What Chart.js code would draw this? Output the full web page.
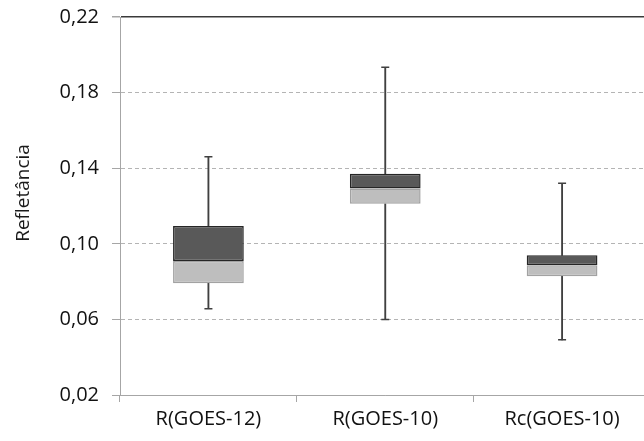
<!DOCTYPE html>
<html>
<head>
<meta charset="utf-8">
<script src="https://cdn.jsdelivr.net/npm/chart.js@4.4.0/dist/chart.umd.min.js"></script>
<style>
  html, body { margin: 0; padding: 0; background: #fff; overflow: hidden; }
  #wrap { width: 656px; height: 441px; position: relative; }
</style>
</head>
<body>
<div id="wrap"><canvas id="boxChart"></canvas></div>
<script>
// box plot values (reflectance)
const categories = ['R(GOES-12)', 'R(GOES-10)', 'Rc(GOES-10)'];
const minVals    = [0.0657, 0.0600, 0.0492];
const q1Vals     = [0.0791, 0.1212, 0.0828];
const medianVals = [0.0909, 0.1292, 0.0886];
const q3Vals     = [0.1094, 0.1370, 0.0939];
const maxVals    = [0.1460, 0.1934, 0.1320];
const yTicks     = [0.02, 0.06, 0.10, 0.14, 0.18, 0.22];
const yTitle     = 'Refletância';

const FONT = "'Open Sans', 'DejaVu Sans', sans-serif";

const lowerBox   = categories.map((c, i) => [q1Vals[i], medianVals[i]]);
const upperBox   = categories.map((c, i) => [medianVals[i], q3Vals[i]]);
const lowWhisker = categories.map((c, i) => [minVals[i], q1Vals[i]]);
const topWhisker = categories.map((c, i) => [q3Vals[i], maxVals[i]]);

// y title sits a bit above the plot centre in the original, so draw it by hand
const yTitlePlugin = {
  id: 'yTitle',
  afterDraw(chart) {
    const ctx = chart.ctx;
    ctx.save();
    ctx.translate(24, 193);
    ctx.rotate(-Math.PI / 2);
    ctx.font = '19px ' + FONT;
    ctx.fillStyle = '#1a1a1a';
    ctx.textAlign = 'center';
    ctx.textBaseline = 'middle';
    ctx.fillText(yTitle, 0, 0);
    ctx.restore();
  }
};

function whiskerSet(label, data){
  return { type: 'bar', label, data, backgroundColor: '#404040',
    barThickness: 1.2, grouped: false, order: 3 };
}
function capSet(label, data){
  return { type: 'line', label, data, showLine: false, pointStyle: 'line',
    pointRadius: 4, borderColor: '#404040', borderWidth: 1.5, order: 2 };
}

const cfg = {
  data: {
    labels: categories,
    datasets: [
      whiskerSet('whisker low', lowWhisker),
      whiskerSet('whisker high', topWhisker),
      { type: 'bar', label: 'Q1-mediana', data: lowerBox, backgroundColor: '#bebebe',
        borderColor: '#a2a2a2', borderWidth: 1.5, borderSkipped: false,
        barPercentage: 0.4, categoryPercentage: 1, grouped: false, order: 1 },
      { type: 'bar', label: 'mediana-Q3', data: upperBox, backgroundColor: '#595959',
        borderColor: '#262626', borderWidth: 1.5, borderSkipped: false,
        barPercentage: 0.4, categoryPercentage: 1, grouped: false, order: 1 },
      capSet('max', maxVals),
      capSet('min', minVals)
    ]
  },
  options: {
    responsive: true,
    maintainAspectRatio: false,
    animation: false,
    layout: { padding: { top: 17, right: 1, left: 0, bottom: 0 } },
    plugins: { legend: { display: false }, tooltip: { enabled: false } },
    scales: {
      x: {
        type: 'category',
        offset: true,
        grid: { offset: true, drawOnChartArea: false, drawTicks: true, tickLength: 7, color: '#a6a6a6' },
        border: { color: '#a6a6a6', width: 1 },
        ticks: { color: '#111', font: { family: FONT, size: 20 }, padding: 5 },
        afterFit: (s) => { s.height = 46; s.paddingLeft = 0; s.paddingRight = 0; }
      },
      y: {
        min: 0.02, max: 0.22,
        afterBuildTicks: (s) => { s.ticks = yTicks.map(v => ({ value: v })); },
        grid: {
          color: (ctx) => ctx.tick && ctx.tick.value >= 0.2199 ? '#3a3a3a' : '#b4b4b4',
          lineWidth: (ctx) => ctx.tick && ctx.tick.value >= 0.2199 ? 1.5 : 1,
          tickColor: '#a6a6a6', tickLength: 8
        },
        border: { color: '#a6a6a6', width: 1,
          dash: (ctx) => (ctx.tick && (ctx.tick.value >= 0.2199 || ctx.tick.value <= 0.0201)) ? [] : [4, 3] },
        ticks: { color: '#111', font: { family: FONT, size: 20 }, padding: 13,
          callback: (v) => Number(v).toFixed(2).replace('.', ',') },
        afterFit: (s) => { s.width = 120; s.paddingTop = 0; s.paddingBottom = 0; }
      }
    }
  },
  plugins: [yTitlePlugin]
};

new Chart(document.getElementById('boxChart').getContext('2d'), cfg);
</script>
</body>
</html>
